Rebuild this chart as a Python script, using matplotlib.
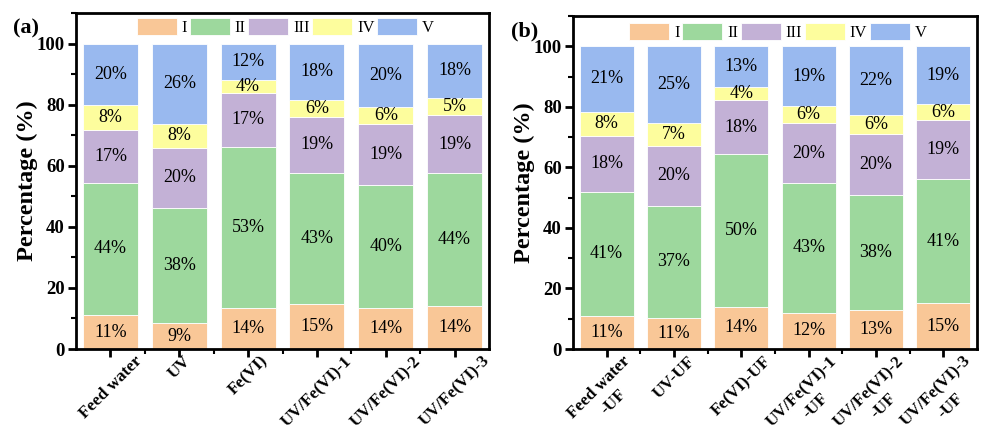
import numpy as np
import matplotlib.pyplot as plt
from matplotlib.ticker import MultipleLocator, FixedLocator

plt.rcParams['font.family'] = ['Liberation Serif', 'DejaVu Serif']

# Categorie
groups_a = ['Feed water', 'UV', 'Fe(VI)', 'UV/Fe(VI)-1', 'UV/Fe(VI)-2', 'UV/Fe(VI)-3']
groups_b = ['Feed water\n-UF', 'UV-UF', 'Fe(VI)-UF', 'UV/Fe(VI)-1\n-UF', 'UV/Fe(VI)-2\n-UF', 'UV/Fe(VI)-3\n-UF']
components = ['I', 'II', 'III', 'IV', 'V']

# Valori (%) pannello (a)
I_a = [11.1, 8.4, 13.5, 14.7, 13.5, 14.2]
II_a = [43.4, 37.8, 52.7, 43.0, 40.3, 43.3]
III_a = [17.3, 19.7, 17.6, 18.3, 19.7, 19.1]
IV_a = [8.2, 7.9, 4.4, 5.4, 5.8, 5.5]
V_a = [20.0, 26.2, 11.8, 18.6, 20.7, 17.9]

# Valori (%) pannello (b)
I_b = [11.0, 10.4, 14.0, 11.9, 13.0, 15.1]
II_b = [41.0, 37.0, 50.5, 43.1, 38.0, 40.9]
III_b = [18.5, 19.6, 17.6, 19.5, 20.0, 19.5]
IV_b = [7.9, 7.5, 4.4, 5.7, 6.3, 5.5]
V_b = [21.6, 25.5, 13.5, 19.8, 22.7, 19.0]

# Etichette percentuali
lab_a = [[11, 9, 14, 15, 14, 14], [44, 38, 53, 43, 40, 44], [17, 20, 17, 19, 19, 19],
         [8, 8, 4, 6, 6, 5], [20, 26, 12, 18, 20, 18]]
lab_b = [[11, 11, 14, 12, 13, 15], [41, 37, 50, 43, 38, 41], [18, 20, 18, 20, 20, 19],
         [8, 7, 4, 6, 6, 6], [21, 25, 13, 19, 22, 19]]

colors = ['#F9C797', '#9DD89D', '#C3B1D6', '#FDFD9D', '#99B9EF']

fig = plt.figure(figsize=(9.81, 4.25), dpi=100)
ax_a = fig.add_axes([0.0775, 0.1788, 0.421, 0.7906])
ax_b = fig.add_axes([0.584, 0.1788, 0.412, 0.7835])


def draw_panel(ax, groups, series, labels, tag, leg_y):
    x = np.arange(len(groups))
    bottom = np.zeros(len(groups))
    for vals, lab, col, name in zip(series, labels, colors, components):
        vals = np.array(vals)
        ax.bar(x, vals, width=0.8, bottom=bottom, color=col, edgecolor='white',
               linewidth=0.6, label=name)
        for xi, b, v, t in zip(x, bottom, vals, lab):
            ax.text(xi, b + v / 2, f'{t}%', ha='center', va='center', fontsize=13)
        bottom += vals
    ax.set_xlim(-0.5, 5.5)
    ax.set_ylim(0, 110)
    ax.set_xticks(x)
    ax.set_xticklabels(groups, rotation=45, ha='center', va='top',
                       fontsize=12.3, fontweight='bold', multialignment='center',
                       linespacing=1.4)
    ax.xaxis.set_minor_locator(FixedLocator(x[:-1] + 0.5))
    ax.set_yticks([0, 20, 40, 60, 80, 100])
    ax.yaxis.set_minor_locator(MultipleLocator(10))
    for lbl in ax.get_yticklabels():
        lbl.set_fontweight('bold')
        lbl.set_fontsize(13.5)
    ax.tick_params(which='major', direction='out', length=6, width=2, pad=2)
    ax.tick_params(axis='x', which='major', pad=-3)
    ax.tick_params(which='minor', direction='out', length=3.5, width=1.5)
    for s in ax.spines.values():
        s.set_linewidth(2)
    ax.set_ylabel('Percentage (%)', fontsize=17.5, fontweight='bold', labelpad=-1)
    ax.legend(loc='upper center', ncol=5, frameon=False, fontsize=12,
              handlelength=2.4, handleheight=1.2, handletextpad=0.3,
              columnspacing=0.15, bbox_to_anchor=(0.507, leg_y))
    ax.text(-0.153, 0.955, tag, transform=ax.transAxes, fontsize=16,
            fontweight='bold', ha='left', va='center')


draw_panel(ax_a, groups_a, [I_a, II_a, III_a, IV_a, V_a], lab_a, '(a)', 1.03)
draw_panel(ax_b, groups_b, [I_b, II_b, III_b, IV_b, V_b], lab_b, '(b)', 1.025)

fig.savefig('out.png', dpi=100)
